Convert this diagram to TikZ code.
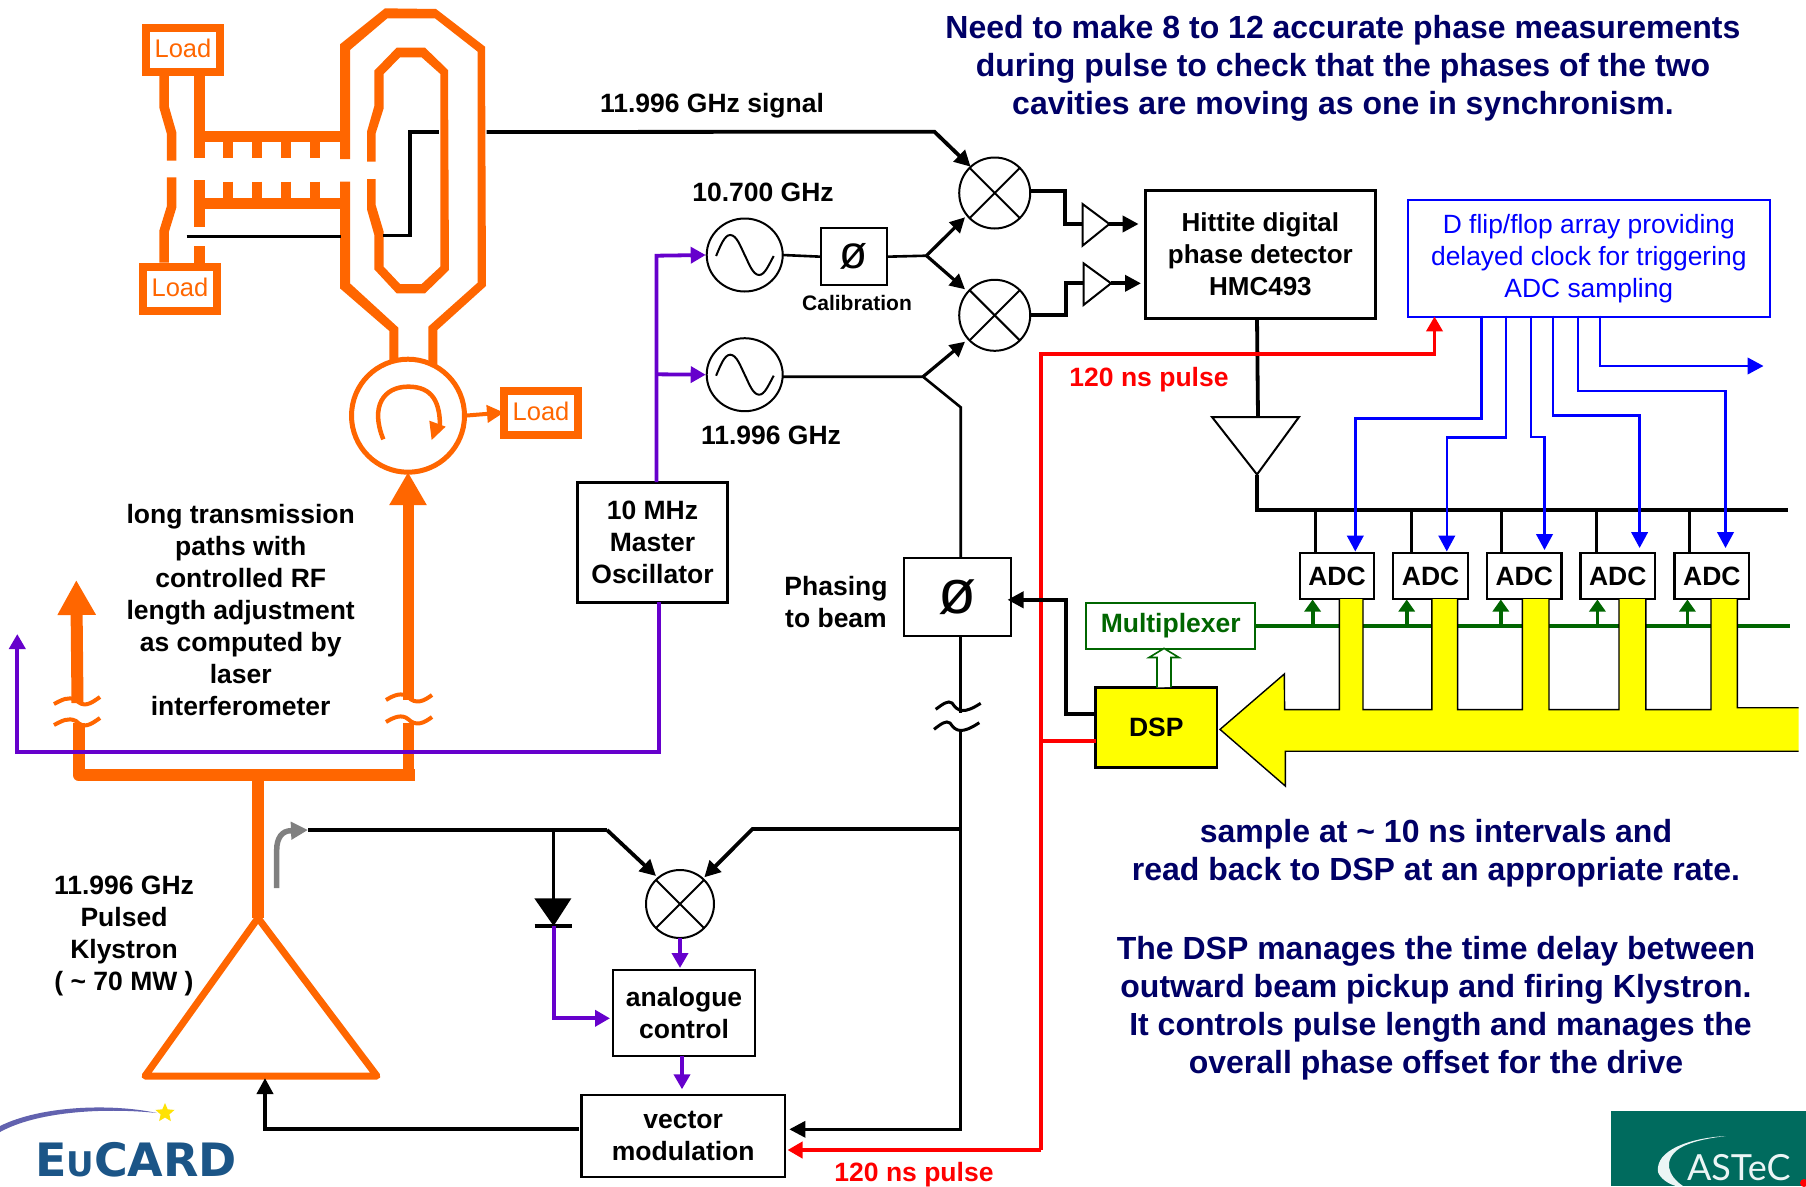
\documentclass[tikz,border=0pt]{standalone}
\usepackage{fontspec}
\setmainfont{Liberation Sans}
\newfontfamily\logofont{Lato}
\newfontfamily\eufont{DejaVu Sans}
\usetikzlibrary{arrows.meta,calc,shapes.geometric}
\definecolor{orng}{HTML}{FF6600}
\definecolor{purp}{HTML}{6600CC}
\definecolor{navy}{HTML}{000066}
\definecolor{grn}{HTML}{006600}
\definecolor{blu}{HTML}{0000FF}
\definecolor{yel}{HTML}{FFFF00}
\definecolor{eublue}{HTML}{1B5587}
\definecolor{astec}{HTML}{006B5E}
\newcommand{\fsz}[2]{\fontsize{#1pt}{#2pt}\selectfont}
\newcommand{\sinewave}[1]{\draw[line width=2pt,shift={(#1)}] (-28.6,1) .. controls (-24,-10) and (-20,-20) .. (-14.5,-20) .. controls (-8,-20) and (-4,-8) .. (0,0) .. controls (4,8) and (8,20) .. (14.5,20) .. controls (20,20) and (24,10) .. (29,1);}
\newcommand{\crossin}[1]{\draw[line width=2pt] (#1.45)--(#1.225) (#1.135)--(#1.315);}
\tikzset{
  box/.style={draw,line width=2.2pt,inner sep=0,outer sep=0,align=center,fill=white,font=\bfseries\fsz{26.5}{32}},
  lbl/.style={inner sep=0,outer sep=0,align=center,font=\bfseries\fsz{26.5}{32}},
  navytxt/.style={lbl,text=navy,font=\bfseries\fsz{32}{38}},
  redtxt/.style={lbl,text=red},
  loadbox/.style={draw=orng,line width=8pt,text=orng,inner sep=0,outer sep=0,minimum width=74pt,minimum height=44pt,font=\fsz{25.5}{30}},
  wg/.style={draw=none,fill=orng},
  orngline/.style={draw=orng,line width=11pt},
  squig/.style={draw=orng,line width=4pt},
  squigk/.style={draw=black,line width=3pt},
  sig/.style={draw=black,line width=2.6pt},
  sigh/.style={draw=black,line width=3.8pt},
  mixer/.style={circle,draw,line width=2pt,inner sep=0,outer sep=0,minimum size=71pt},
  osc/.style={ellipse,draw,line width=2pt,inner sep=0,outer sep=0,minimum width=76pt,minimum height=73pt},
  adc/.style={box,minimum width=74.5pt,minimum height=45.7pt},
  amp/.style={draw,line width=2pt,fill=white,line join=miter},
  blk/.style={-{Triangle[length=16pt,width=16pt]}},
  blks/.style={-{Triangle[length=15pt,width=15pt]}},
  bluar/.style={draw=blu,line width=2.6pt,-{Triangle[length=16pt,width=16.5pt]}},
  grnar/.style={draw=grn,line width=3.8pt,-{Triangle[length=12pt,width=16pt]}},
  purar/.style={draw=purp,line width=3.8pt,-{Triangle[length=15pt,width=16pt]}},
  redar/.style={draw=red,line width=3.8pt,-{Triangle[length=15pt,width=16pt]}},
}
\begin{document}
\begin{tikzpicture}[x=1pt,y=-1pt,line join=miter]
\useasboundingbox (0,0) rectangle (1806,1186);
\fill[white] (0,0) rectangle (1806,1186);

%% ---- cavity structure (coordinates in 1/3 px)
\begin{scope}[shift={(100,0)},x=0.33333pt,y=-0.33333pt]
  \draw[orngline,line width=9.5pt] (192,228)--(192,320)--(215,400)--(215,482);
  \draw[orngline,line width=9.5pt] (215,532)--(215,620)--(192,695)--(192,788);
  \draw[orngline] (298,228)--(298,474);
  \draw[orngline] (298,540)--(298,680);
  \draw[orngline] (298,738)--(298,788);
  \draw[orngline] (298,410)--(720,410);
  \draw[orngline] (298,610)--(720,610);
  \foreach \tx in {385,472,559,646}{
    \draw[orngline,line width=10.3pt] (\tx,420)--(\tx,474);
    \draw[orngline,line width=10.3pt] (\tx,545)--(\tx,600);
  }
  \fill[wg] (720,477)--(720,133)--(855,25)--(1008,27)--(1155,140)--(1158,858)--(1012,990)--(1012,1100)--(985,1090)--(985,980)--(1133,848)--(1133,155)--(1005,55)--(862,55)--(750,150)--(750,477)--cycle;
  \fill[wg] (720,545)--(720,865)--(868,993)--(868,1090)--(895,1085)--(895,983)--(750,850)--(750,545)--cycle;
  \fill[wg] (801,485)--(801,395)--(823,318)--(823,212)--(890,143)--(975,143)--(1044,210)--(1047,810)--(975,880)--(890,880)--(823,808)--(823,705)--(801,628)--(801,537)--(827,537)--(827,615)--(851,695)--(851,800)--(900,852)--(965,852)--(1021,800)--(1021,222)--(965,172)--(900,172)--(851,222)--(851,325)--(827,400)--(827,485)--cycle;
  \coordinate (pka) at (850,707);
  \coordinate (pkb) at (930,707);
  \coordinate (pkc) at (930,396);
  \coordinate (pkd) at (1017,396);
  \coordinate (pke) at (1160,396);
  \coordinate (pkf) at (260,710);
  \coordinate (pkg) at (722,710);
  % circulator inner arrow
  \draw[draw=orng,line width=4.5pt] (850,1318) .. controls (810,1220) and (850,1160) .. (925,1160) .. controls (1000,1160) and (1020,1210) .. (1020,1280);
  \fill[orng] (988,1262)--(1037,1280)--(995,1320)--cycle;
\end{scope}
\draw[sigh,line width=3.4pt] (pka)--(pkb)--(pkc)--(pkd);
\draw[sigh,line width=3.4pt] (pkf)--(pkg);

\node[circle,draw=orng,line width=5pt,minimum size=113pt,inner sep=0,outer sep=0] (circ) at (408,415.7) {};
\node[loadbox] (loada) at (183,50) {\raisebox{3pt}{Load}\hspace{18pt}};
\node[loadbox] (loadb) at (180,289) {\raisebox{3pt}{Load}\hspace{18pt}};
\node[loadbox] (loadc) at (541,412.5) {\raisebox{3pt}{Load}\hspace{18pt}};
\draw[draw=orng,line width=4pt,-{Triangle[length=17pt,width=17pt]}] (circ.east) -- (loadc.west);

%% ---- RF feed to klystron
\coordinate (ktop) at (258,918);
\coordinate (kl) at (145,1076);
\coordinate (kr) at (377,1076);
\coordinate (fl) at (78.6,723);
\coordinate (fc) at (78.6,775);
\coordinate (fr) at (415,775);
\coordinate (frb) at (408,723);
\coordinate (frc) at (408,781);
\coordinate (fsb) at (258,775);
\coordinate (lat) at (77.5,703);
\coordinate (latt) at (76.3,580);
\coordinate (rat) at (408,700);
\coordinate (ratt) at (408,472);
\draw[orngline,line width=12pt,line join=round] (fl)--(fc)--(fr);
\draw[orngline] (frb)--(frc);
\draw[orngline,line width=12pt] (fsb)--(ktop);
\draw[orngline,line width=12pt,-{Triangle[length=35pt,width=36pt]}] (lat)--(latt);
\draw[orngline,-{Triangle[length=33pt,width=35pt]}] (rat)--(ratt);
\draw[draw=orng,line width=7pt,line join=round,fill=white] (ktop)--(kl)--(kr)--cycle;
% break marks
\draw[squig] (54,704) .. controls (62,700) and (68,696) .. (76,700) .. controls (84,708) and (90,704) .. (100,697);
\draw[squig] (54,725) .. controls (62,721) and (68,717) .. (76,721) .. controls (84,729) and (90,725) .. (100,718);
\draw[squig] (386,700) .. controls (394,695) and (402,692) .. (408,697) .. controls (416,705) and (424,701) .. (432,695);
\draw[squig] (386,722) .. controls (394,717) and (402,714) .. (408,719) .. controls (416,727) and (424,723) .. (432,717);

%% ---- sources
\node[mixer] (mxa) at (994.7,193) {};
\node[mixer] (mxb) at (994.7,315.3) {};
\node[mixer,minimum size=68pt] (mxc) at (680,904) {};
\crossin{mxa}\crossin{mxb}\crossin{mxc}
\node[osc] (osca) at (744.7,255) {};
\node[osc] (oscb) at (744.7,374.7) {};
\sinewave{osca.center}\sinewave{oscb.center}
\node[box,line width=2pt,minimum width=65.6pt,minimum height=56.7pt,font=\fsz{46}{46}] (cal) at (853.8,256.7) {ø};
\node[lbl,font=\bfseries\fsz{21}{25}] (caltxt) at (857,302.7) {Calibration};
\node[lbl] (f107) at (763,192.7) {10.700 GHz};
\node[lbl] (f120) at (771,435.7) {11.996 GHz};
\node[lbl] (fsig) at (712,106) {11.996 GHz signal};
\node[box,minimum width=150pt,minimum height=120pt,line width=3pt] (mo) at (652.5,542) {10 MHz\\Master\\Oscillator};
\node[box,minimum width=106.7pt,minimum height=78.3pt,font=\fsz{62}{62}] (pbeam) at (957.4,597) {ø};
\node[lbl] (pbtxt) at (836,602) {Phasing\\to beam};

%% purple clock
\coordinate (pa) at (656.5,255.7);
\coordinate (pb) at (656.5,374.3);
\coordinate (pl) at (17.3,752.3);
\coordinate (pr) at (659,752.3);
\coordinate (plt) at (17.3,634);
\draw[purar] (mo.north -| pa) -- (pa) -- ($(osca.west)+(-1,0)$);
\draw[purar] (pb) -- ($(oscb.west)+(-1,0)$);
\draw[purar] (mo.south -| pr) -- (pr) -- (pl) -- (plt);

%% mixers inputs
\coordinate (sa) at (934.4,131.7);
\coordinate (sat) at (970.6,166.7);
\coordinate (spl) at (926.5,255.7);
\coordinate (spa) at (965,217.3);
\coordinate (spb) at (965,289.3);
\coordinate (osp) at (923,376.7);
\coordinate (ospt) at (965,341.7);
\coordinate (dwn) at (960.7,407.3);
\draw[sigh,blk] (pke) -- (sa) -- (sat);
\draw[sig] (osca.east) -- (cal.west);
\draw[sig] (cal.east) -- (spl);
\draw[sigh,line width=3.2pt,blks] (spl) -- (spa);
\draw[sigh,line width=3.2pt,blks] (spl) -- (spb);
\draw[sig] (oscb.east |- osp) -- (osp) -- (dwn) -- (dwn |- pbeam.north);
\draw[sigh,line width=3.2pt,blks] (osp) -- (ospt);

%% Hittite
\coordinate (ta1) at (1082.5,204);
\coordinate (ta2) at (1082.5,245.7);
\coordinate (ta3) at (1109.4,224);
\coordinate (tb1) at (1083.5,263.3);
\coordinate (tb2) at (1083.5,305);
\coordinate (tb3) at (1111,283.3);
\node[box,line width=3pt,minimum width=229.8pt,minimum height=128.3pt,font=\bfseries\fsz{26}{32}] (hit) at (1260.4,254.2) {Hittite digital\\phase detector\\HMC493};
\draw[sigh] (mxa.east |- 0,191) -- (1064.6,191) -- (1064.6,224) -- (1082.5,224);
\draw[sigh] (mxb.east) -- (1066,315.3) -- (1066,283.3) -- (1083.5,283.3);
\draw[amp] (ta1)--(ta2)--(ta3)--cycle;
\draw[amp] (tb1)--(tb2)--(tb3)--cycle;
\draw[sigh,blk] (ta3) -- (1138.6,224);
\draw[sigh,blk] (tb3) -- (1141,283.3);

%% ADC bus
\coordinate (va1) at (1212,417);
\coordinate (va2) at (1299,417);
\coordinate (va3) at (1257,474.5);
\coordinate (bus0) at (1257,510);
\coordinate (bus1) at (1788,510);
\node[adc] (adca) at (1337,576) {ADC};
\node[adc] (adcb) at (1430.6,576) {ADC};
\node[adc] (adcc) at (1524.2,576) {ADC};
\node[adc] (adcd) at (1617.8,576) {ADC};
\node[adc] (adce) at (1711.8,576) {ADC};
\draw[sigh] (hit.south -| va3) -- (1258,417);
\draw[amp] (va1)--(va2)--(va3)--cycle;
\draw[sigh] (va3)--(bus0)--(bus1);
\foreach \dx in {1315,1411,1501,1596,1689}{
  \draw[sigh,line width=3pt] (\dx,510) -- (\dx,552);
}
%% Multiplexer, green control line
\coordinate (gr0) at (1255.5,626);
\coordinate (gr1) at (1790,626);
\draw[draw=grn,line width=3.4pt] (gr0)--(gr1);
\foreach \gx in {1312.6,1406.7,1500.8,1597.4,1687.4}{
  \draw[grnar] (\gx,626) -- (\gx,599.5);
}
\node[box,draw=grn,text=grn,line width=2pt,minimum width=169.5pt,minimum height=46.3pt,font=\bfseries\fsz{26.5}{30}] (mux) at (1170.7,625.8) {Multiplexer};

%% yellow bus
\fill[yel] (1220,729.4) -- (1284.3,674) -- (1284.6,709.6) -- (1339.3,709.6) -- (1339.3,599) -- (1363,599) -- (1363,709.6) -- (1431.9,709.6) -- (1431.9,599) -- (1457.6,599) -- (1457.6,709.6) -- (1522.4,709.6) -- (1522.4,599) -- (1549,599) -- (1549,709.6) -- (1619,709.6) -- (1619,599) -- (1645.8,599) -- (1645.8,709.6) -- (1711,709.6) -- (1711,599) -- (1737.3,599) -- (1737.3,707.7) -- (1798.5,707.7) -- (1798.5,751.2) -- (1285.3,751.2) -- (1285.3,786) -- cycle;
\draw[black,line width=1.4pt] (1798.5,751.2) -- (1285.3,751.2) -- (1285.3,786) -- (1220,729.4) -- (1284.3,674) -- (1284.6,709.6) -- (1339.3,709.6) -- (1339.3,599) (1363,599) -- (1363,709.6) -- (1431.9,709.6) -- (1431.9,599) (1457.6,599) -- (1457.6,709.6) -- (1522.4,709.6) -- (1522.4,599) (1549,599) -- (1549,709.6) -- (1619,709.6) -- (1619,599) (1645.8,599) -- (1645.8,709.6) -- (1711,709.6) -- (1711,599) (1737.3,599) -- (1737.3,707.7) -- (1798.5,707.7);

\node[box,fill=yel,line width=2.4pt,minimum width=121.4pt,minimum height=80pt] (dsp) at (1156.3,727.5) {DSP};

% hollow arrow
\coordinate (hoa) at (1157,687);
\draw[draw=grn,line width=1.6pt,fill=white] (dsp.north -| hoa) -- (1157,657.5) -- (1149,657.5) -- (1164,648.4) -- (1179,657.5) -- (1171,657.5) -- (1171,687);

%% D flip/flop
\node[box,draw=blu,text=blu,line width=2pt,minimum width=361.7pt,minimum height=117.4pt,font=\fsz{26.4}{32}] (dff) at (1588.8,258.4) {D flip/flop array providing\\delayed clock for triggering\\ADC sampling};
\path (dff.north west) ++(0,0);
\draw[bluar] (1481.7,315.6) -- (1481.7,418.7) -- (1355.3,418.7) -- (1355.3,551.5);
\draw[bluar] (1506,315.6) -- (1506,437.7) -- (1446.8,437.7) -- (1446.8,551.5);
\draw[bluar] (1531,315.6) -- (1531,437) -- (1544.5,437) -- (1544.5,550);
\draw[bluar] (1553,315.6) -- (1553,415.6) -- (1639.6,415.6) -- (1639.6,548);
\draw[bluar] (1578,315.6) -- (1578,391) -- (1725.5,391) -- (1725.5,548);
\draw[bluar] (1600,315.6) -- (1600,366) -- (1763.5,366);

%% Bottom loop
\node[box,minimum width=142.1pt,minimum height=86pt] (ana) at (684,1012.7) {analogue\\control};
\node[box,minimum width=203.6pt,minimum height=82.3pt] (vec) at (683.2,1136) {vector\\modulation};
\coordinate (dst) at (553.6,830);
\coordinate (d1) at (534.3,898.3);
\coordinate (d2) at (571.4,898.3);
\coordinate (d3) at (553.6,926);
\coordinate (d4) at (534.5,926);
\coordinate (d5) at (572,926);
\coordinate (gtip) at (308,830);
\coordinate (mla) at (607,830);
\coordinate (mlt) at (656,876);
\coordinate (mra) at (752.5,829);
\coordinate (mrt) at (704.3,877.3);
\coordinate (rjn) at (960.7,829);
\coordinate (rbt) at (960.7,1129.3);
\coordinate (klc) at (265,1129.3);
\coordinate (klt) at (265,1078);
\draw[sigh] (gtip) -- (mla);
\draw[sigh,blk] (mla) -- (mlt);
\draw[sigh,blk] (rjn) -- (mra) -- (mrt);
\draw[sigh,line width=3.4pt] (dst) -- (d3);
\fill (d1)--(d2)--(d3)--cycle;
\draw[line width=4pt] (d4)--(d5);
\draw[purar] (d3) -- (553.6,1018.3) -- (610,1018.3);
\draw[purar] (mxc.south) -- (680,968);
\draw[purar] (ana.south -| 682,0) -- (682,1089.3);
\draw[sig] (dwn |- pbeam.south) -- (960.7,712.7);
\draw[squigk] (935.7,709.3) .. controls (943,704) and (948,700) .. (952,703) .. controls (958,712) and (964,714) .. (980.7,703.3);
\draw[squigk] (934,729.3) .. controls (941,724) and (946,720) .. (950,723) .. controls (956,732) and (962,734) .. (979.3,722.7);
\draw[sigh,line width=3.2pt,blk] (960.7,732.3) -- (rbt) -- (789.3,1129.3);
\draw[sigh,blk] (578.6,1129.3) -- (klc) -- (klt);
% gray arrow
\draw[draw=gray,line width=5.5pt,-{Triangle[length=17pt,width=17pt]}] (276.7,888) -- (276.7,850) .. controls (276.7,838) and (282,830.7) .. (291,830.7) -- (gtip);

%% red pulse
\coordinate (rv) at (1041,354);
\coordinate (rh) at (1434.5,354);
\coordinate (rt) at (1434.5,316.4);
\coordinate (rb) at (1041,1150);
\draw[redar] (rb) -- (rv) -- (rh) -- (rt);
\draw[redar] (rb) -- (787.5,1150);
\draw[draw=red,line width=3.8pt] (dsp.west |- 0,741) -- (1041,741);
\draw[sigh,blk] (dsp.west |- 0,713.6) -- (1066.3,713.6) -- (1066.3,599.8) -- (1007.5,599.8);
\node[redtxt] (pulsea) at (1149,380) {120 ns pulse};
\node[redtxt] (pulseb) at (914,1175) {120 ns pulse};

%% texts
\node[navytxt] (t1) at (1343,68.5) {Need to make 8 to 12 accurate phase measurements\\during pulse to check that the phases of the two\\cavities are moving as one in synchronism.};
\node[navytxt] (t2) at (1436,853) {sample at \textasciitilde{} 10 ns intervals and\\read back to DSP at an appropriate rate.};
\node[navytxt] (t3) at (1436,1008) {The DSP manages the time delay between\\outward beam pickup and firing Klystron.\\\ It controls pulse length and manages the\\overall phase offset for the drive};
\node[lbl] (t4) at (240.7,610) {long transmission\\paths with\\controlled RF\\length adjustment\\as computed by\\laser\\interferometer};
\node[lbl] (t5) at (124,936) {11.996 GHz\\Pulsed\\Klystron\\( \textasciitilde{} 70 MW )};

%% logos
\fill[black!45!white!70!blue] (0,1126) .. controls (40,1106) and (110,1103) .. (157,1113) .. controls (110,1108) and (40,1110) .. (0,1132) -- cycle;
\node[star,star points=5,star point ratio=2.2,fill=yellow!85!orange,inner sep=0,minimum size=20pt] (star) at (165,1113) {};
\node[inner sep=0,outer sep=0,text=eublue,anchor=base west,font=\eufont\bfseries\fsz{46}{50}] (eu) at (35,1176) {E\fsz{34}{50}U\fsz{46}{50}CARD};

\fill[astec] (1611,1111) rectangle (1806,1186);
\fill[white!92!teal] (1725.7,1136) .. controls (1690,1138) and (1655,1150) .. (1658,1172) .. controls (1660,1178) and (1668,1184) .. (1676,1186) -- (1683,1186) .. controls (1668,1176) and (1662,1160) .. (1680,1148) .. controls (1692,1141) and (1710,1138) .. (1725.7,1136) -- cycle;
\node[inner sep=0,outer sep=0,text=white!92!teal,anchor=base west,font=\logofont\fsz{36}{38}] (ast) at (1687,1180) {ASTeC};
\fill[red] (1804,1183) circle (4);
\end{tikzpicture}
\end{document}
